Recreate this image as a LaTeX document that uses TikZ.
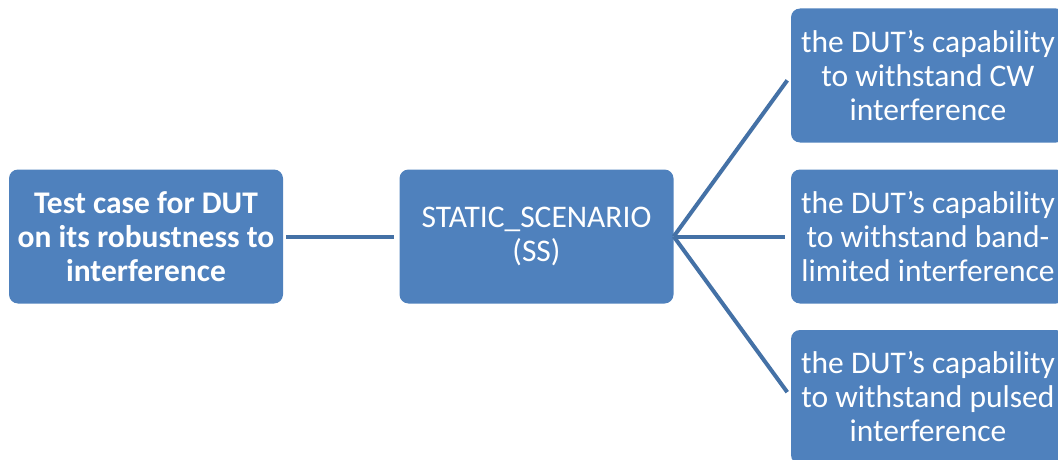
\documentclass[tikz,border=0pt]{standalone}
\usepackage{fontspec}
\setmainfont{Carlito}
\begin{document}
\begin{tikzpicture}[x=1pt,y=-1pt,
  box/.style={draw=none, fill=boxblue, rounded corners=9pt, minimum width=274pt,
    minimum height=134pt, text=white, align=center, font=\fontsize{31.5}{34}\selectfont, inner sep=0pt},
  link/.style={draw=linkblue, line width=4pt}]
\definecolor{boxblue}{HTML}{4F81BD}
\definecolor{linkblue}{HTML}{4471A6}
\useasboundingbox (0,0) rectangle (1058,460);
\node[box, font=\bfseries\fontsize{31.5}{34}\selectfont] (tc) at (146,236.5) {Test case for DUT\\on its robustness to\\interference};
\node[box] (ss) at (536.5,236.5) {STATIC\_SCENARIO\\(SS)};
\node[box] (cw) at (928,75.5) {the DUT’s capability\\to withstand CW\\interference};
\node[box] (bl) at (928,236.5) {the DUT’s capability\\to withstand band-\\limited interference};
\node[box] (pu) at (928,397) {the DUT’s capability\\to withstand pulsed\\interference};
\draw[link, shorten <=3pt, shorten >=5pt] (tc.east) -- (ss.west);
\draw[link, shorten >=6pt] (ss.east) -- (cw.west);
\draw[link, shorten >=6pt] (ss.east) -- (bl.west);
\draw[link, shorten >=6pt] (ss.east) -- (pu.west);
\end{tikzpicture}
\end{document}
